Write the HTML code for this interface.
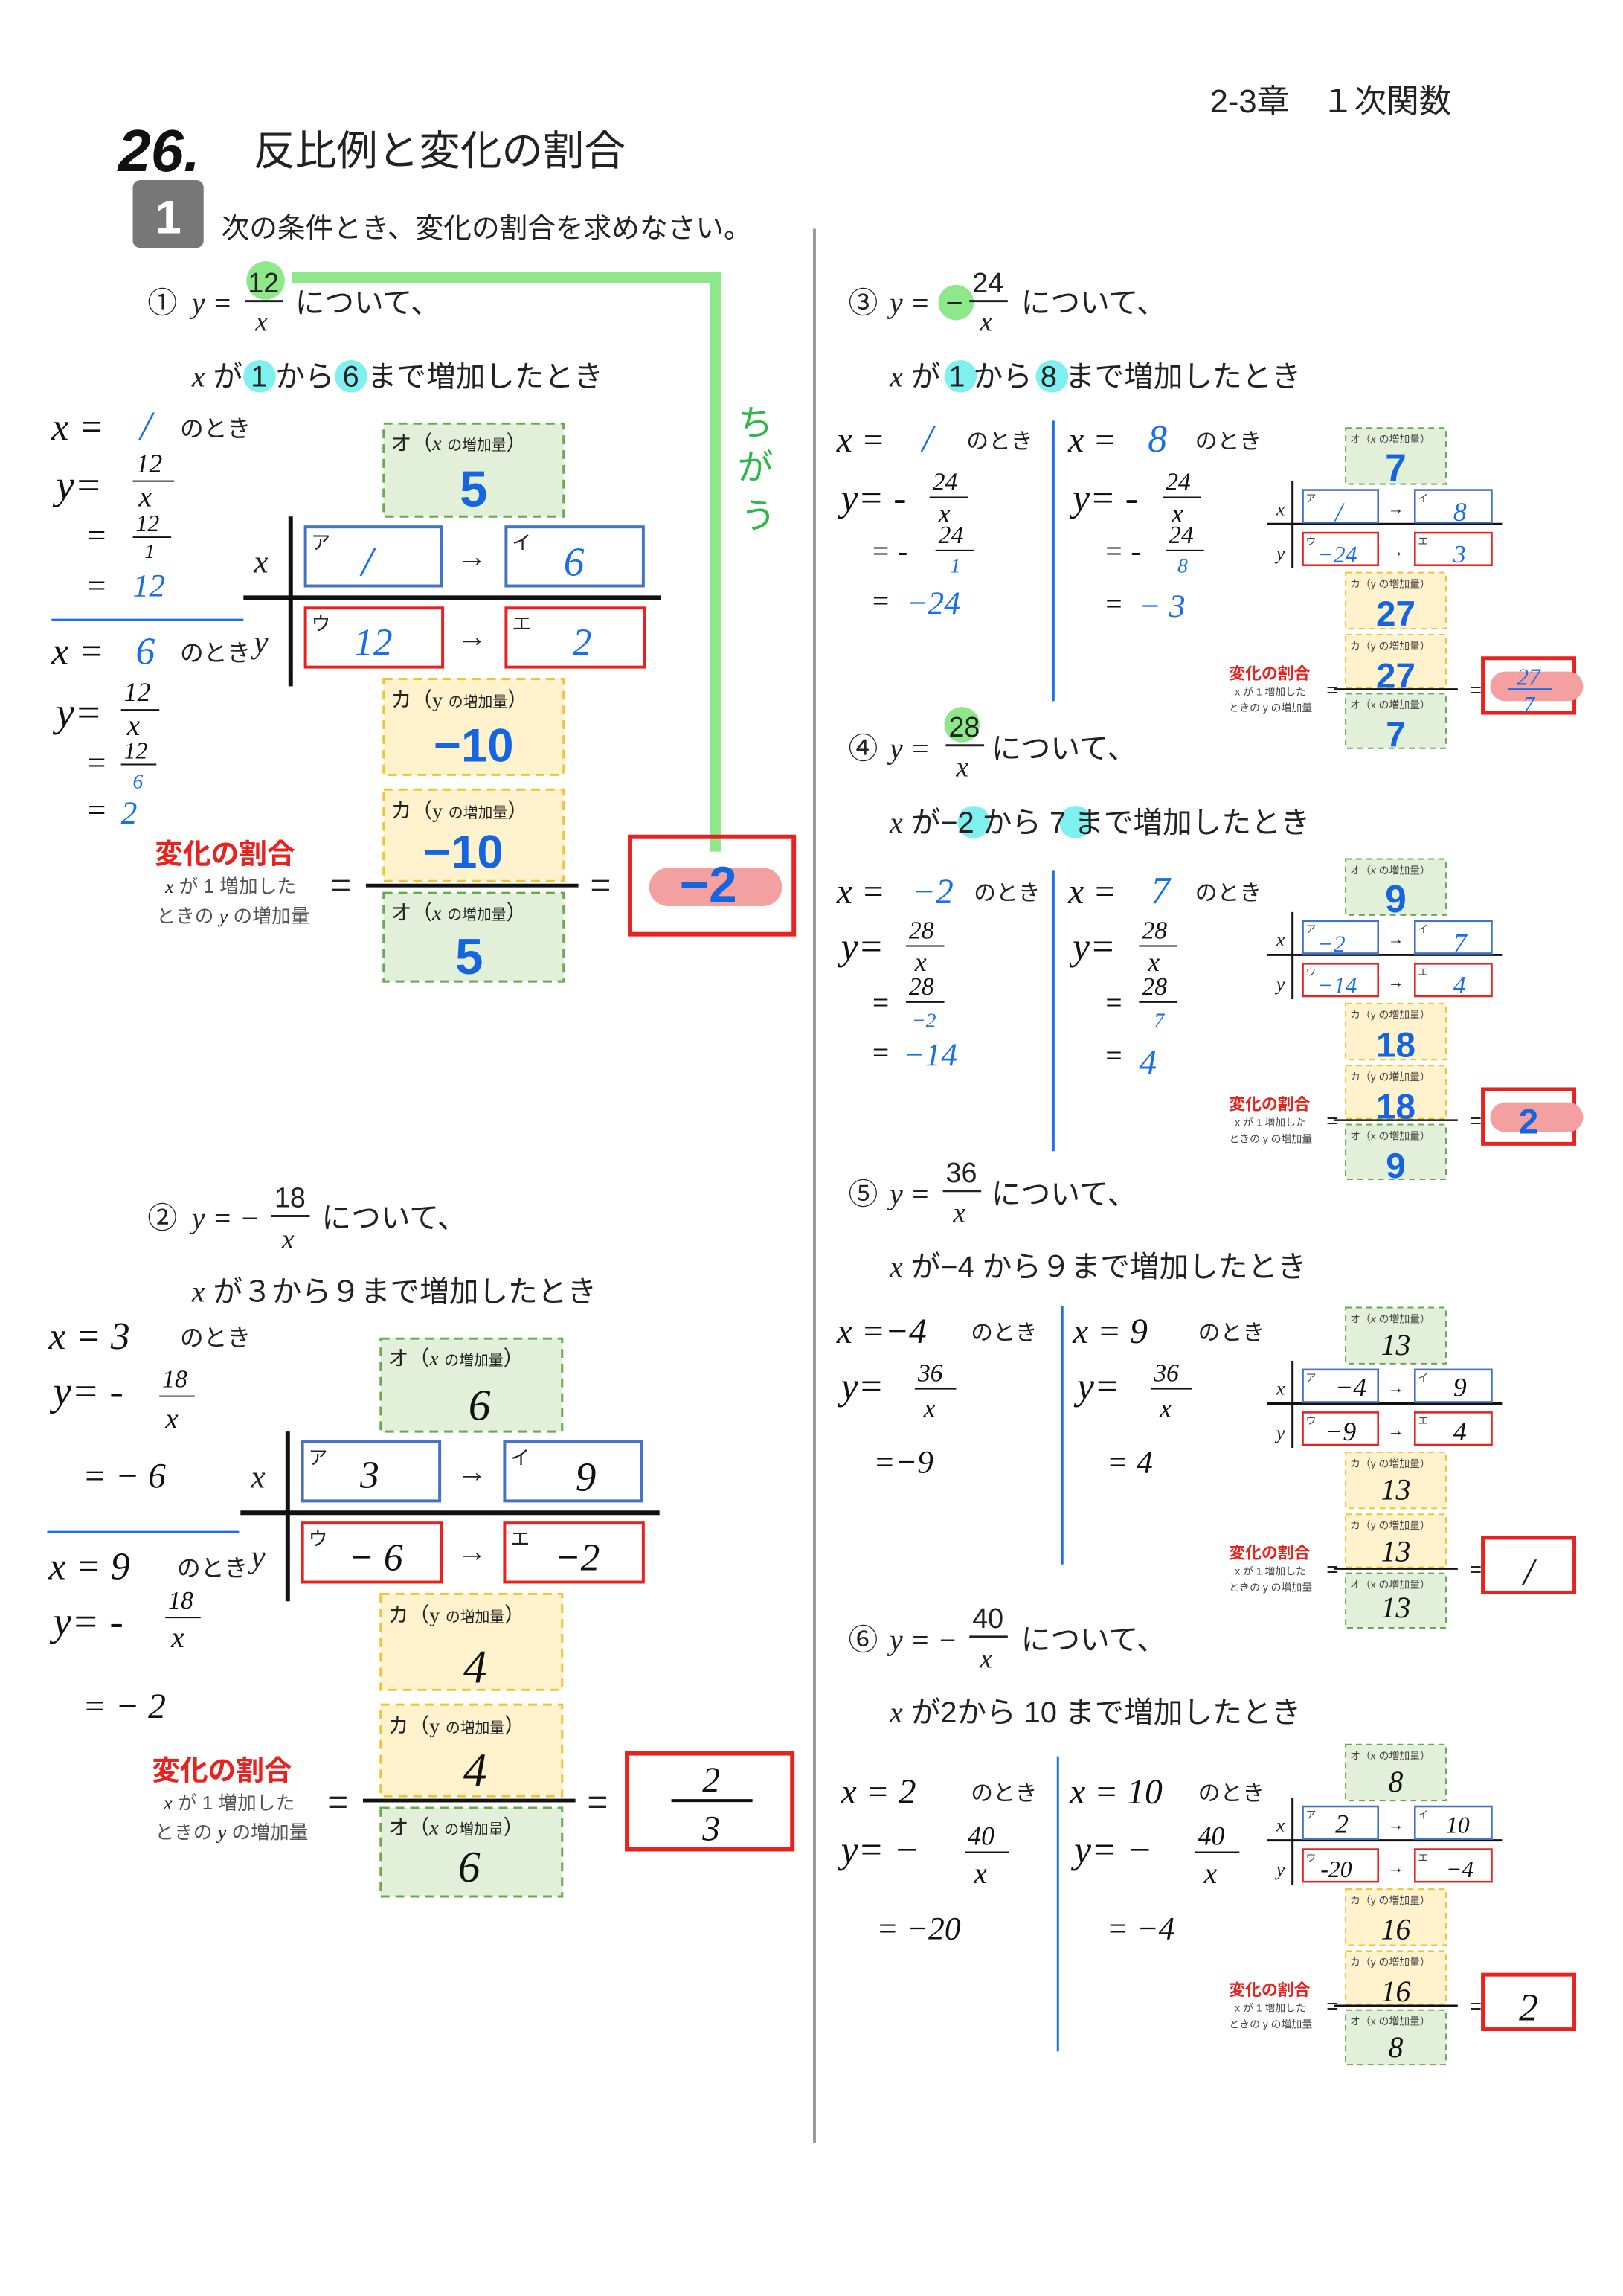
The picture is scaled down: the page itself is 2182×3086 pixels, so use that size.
<!DOCTYPE html>
<html><head><meta charset="utf-8"><style>
html,body{margin:0;padding:0;background:#fff}
svg{display:block}
text{font-family:"Liberation Sans","Noto Sans CJK JP",sans-serif}
.j{font-family:"Liberation Sans","Noto Sans CJK JP",sans-serif;fill:#222}
.m{font-family:"Liberation Serif","Noto Serif CJK SC",serif;font-style:italic;fill:#222}
.h{font-family:"Liberation Serif","Noto Sans CJK JP",serif;font-style:italic;fill:#111}
.b{fill:#1a6ee8}
.bb{fill:#1565e0;font-weight:bold;font-family:"Liberation Sans",sans-serif}
.r{fill:#e8231f}
.sm{font-size:7px;fill:#444}
</style></head><body>
<svg width="2182" height="3086" viewBox="0 0 1100 1555.7" preserveAspectRatio="none" xmlns="http://www.w3.org/2000/svg">
<rect width="1100" height="1556" fill="#fff"/>
<text x="820" y="76" class="j" font-size="22">2-3章　１次関数</text>
<text x="80" y="116" font-size="40" font-weight="bold" font-style="italic" fill="#111" font-family="Liberation Serif">26.</text>
<text x="172" y="112" class="j" font-size="28">反比例と変化の割合</text>
<rect x="90" y="122" width="48" height="46" rx="5" fill="#777"/>
<text x="114" y="158" font-size="32" fill="#fff" text-anchor="middle" font-weight="bold">1</text>
<text x="150" y="161" class="j" font-size="19">次の条件とき、変化の割合を求めなさい。</text>
<line x1="552" y1="155" x2="552" y2="1452" stroke="#999" stroke-width="2"/>

<!-- green annotation -->
<polyline points="198,188 485,188 485,577" fill="none" stroke="#8ee88a" stroke-width="8"/>
<circle cx="180" cy="190" r="13" fill="#8ee88a"/>
<text x="500" y="295" font-size="24" fill="#2db84a">ち</text>
<text x="500" y="325" font-size="24" fill="#2db84a">が</text>
<text x="502" y="358" font-size="24" fill="#2db84a">う</text>

<!-- Problem 1 -->
<text x="100" y="212" class="j" font-size="20">①</text>
<text x="130" y="212" class="m" font-size="20">y =</text>
<text x="168" y="198" font-size="19" fill="#222" font-family="Liberation Serif">12</text>
<line x1="166" y1="204" x2="192" y2="204" stroke="#222" stroke-width="1.5"/>
<text x="173" y="224" class="m" font-size="19">x</text>
<text x="200" y="212" class="j" font-size="20">について、</text>
<circle cx="176" cy="255" r="11" fill="#7ff0f0"/><circle cx="238" cy="255" r="11" fill="#7ff0f0"/>
<text x="130" y="262" class="j" font-size="20"><tspan class="m">x</tspan> が 1 から 6 まで増加したとき</text>
<text x="35" y="298" class="h" font-size="26">x =</text><text x="95" y="298" class="h b" font-size="28">/</text><text x="122" y="296" class="j" font-size="16">のとき</text>
<text x="38" y="338" class="h" font-size="28">y=</text><text x="92" y="320" class="h" font-size="18">12</text><line x1="90" y1="326" x2="118" y2="326" stroke="#111"/><text x="94" y="343" class="h" font-size="20">x</text>
<text x="58" y="370" class="h" font-size="22">=</text><text x="92" y="360" class="h" font-size="16">12</text><line x1="90" y1="364" x2="116" y2="364" stroke="#111"/><text x="98" y="378" class="h" font-size="14">1</text>
<text x="58" y="404" class="h" font-size="22">=</text><text x="90" y="404" class="h b" font-size="22">12</text>
<line x1="35" y1="420" x2="165" y2="420" stroke="#1a6ee8" stroke-width="1.5"/>
<text x="35" y="450" class="h" font-size="26">x =</text><text x="92" y="450" class="h b" font-size="26">6</text><text x="122" y="448" class="j" font-size="16">のとき</text>
<text x="38" y="492" class="h" font-size="28">y=</text><text x="84" y="475" class="h" font-size="18">12</text><line x1="82" y1="481" x2="108" y2="481" stroke="#111"/><text x="86" y="498" class="h" font-size="20">x</text>
<text x="58" y="524" class="h" font-size="22">=</text><text x="84" y="514" class="h" font-size="16">12</text><line x1="82" y1="518" x2="106" y2="518" stroke="#111"/><text x="90" y="534" class="h b" font-size="14">6</text>
<text x="58" y="556" class="h" font-size="22">=</text><text x="82" y="558" class="h b" font-size="22">2</text>
<!-- table 1 -->
<rect x="260" y="287" width="122" height="63" fill="#e2efd9" stroke="#6aa84f" stroke-width="1.5" stroke-dasharray="6,4"/>
<text x="265" y="305" class="j" font-size="14">オ（<tspan class="m">x</tspan> <tspan font-size="10">の増加量</tspan>）</text>
<text x="321" y="343" class="bb" font-size="34" text-anchor="middle">5</text>
<line x1="165" y1="405" x2="448" y2="405" stroke="#111" stroke-width="3"/>
<line x1="197" y1="350" x2="197" y2="465" stroke="#111" stroke-width="3"/>
<text x="172" y="388" class="m" font-size="22">x</text><text x="172" y="442" class="m" font-size="22">y</text>
<rect x="207" y="357" width="92" height="40" fill="none" stroke="#4472c4" stroke-width="2"/><text x="211" y="372" class="j" font-size="13">ア</text><text x="245" y="390" class="h b" font-size="28">/</text>
<text x="320" y="384" class="j" font-size="20" text-anchor="middle">→</text>
<rect x="343" y="357" width="93" height="40" fill="none" stroke="#4472c4" stroke-width="2"/><text x="347" y="372" class="j" font-size="13">イ</text><text x="382" y="390" class="h b" font-size="28">6</text>
<rect x="207" y="412" width="93" height="40" fill="none" stroke="#e8231f" stroke-width="2"/><text x="211" y="427" class="j" font-size="13">ウ</text><text x="240" y="444" class="h b" font-size="26">12</text>
<text x="320" y="438" class="j" font-size="20" text-anchor="middle">→</text>
<rect x="343" y="412" width="94" height="40" fill="none" stroke="#e8231f" stroke-width="2"/><text x="347" y="427" class="j" font-size="13">エ</text><text x="388" y="444" class="h b" font-size="26">2</text>
<rect x="260" y="460" width="122" height="65" fill="#fff2cc" stroke="#f1c232" stroke-width="1.5" stroke-dasharray="6,4"/>
<text x="265" y="479" class="j" font-size="14">カ（<tspan font-family="Liberation Serif">y</tspan> <tspan font-size="10">の増加量</tspan>）</text>
<text x="321" y="516" class="bb" font-size="32" text-anchor="middle">−10</text>
<text x="105" y="585" class="j r" font-size="19" font-weight="bold" style="fill:#e8231f">変化の割合</text>
<text x="112" y="605" class="j" font-size="13" style="fill:#555"><tspan class="m">x</tspan> が 1 増加した</text>
<text x="106" y="625" class="j" font-size="13" style="fill:#555">ときの <tspan class="m">y</tspan> の増加量</text>
<text x="224" y="608" class="j" font-size="24">=</text>
<rect x="260" y="535" width="122" height="62" fill="#fff2cc" stroke="#f1c232" stroke-width="1.5" stroke-dasharray="6,4"/>
<text x="265" y="554" class="j" font-size="14">カ（<tspan font-family="Liberation Serif">y</tspan> <tspan font-size="10">の増加量</tspan>）</text>
<text x="314" y="588" class="bb" font-size="32" text-anchor="middle">−10</text>
<line x1="248" y1="600" x2="392" y2="600" stroke="#111" stroke-width="2.5"/>
<rect x="260" y="605" width="122" height="60" fill="#e2efd9" stroke="#6aa84f" stroke-width="1.5" stroke-dasharray="6,4"/>
<text x="265" y="623" class="j" font-size="14">オ（<tspan class="m">x</tspan> <tspan font-size="10">の増加量</tspan>）</text>
<text x="318" y="660" class="bb" font-size="34" text-anchor="middle">5</text>
<text x="400" y="608" class="j" font-size="24">=</text>
<rect x="427" y="567" width="111" height="66" fill="none" stroke="#e8231f" stroke-width="3"/>
<rect x="440" y="588" width="90" height="26" rx="13" fill="#f4a0a0"/>
<text x="480" y="611" class="bb" font-size="34" text-anchor="middle">−2</text>

<!-- Problem 2 -->
<text x="100" y="832" class="j" font-size="20">②</text>
<text x="130" y="832" class="m" font-size="20">y = −</text>
<text x="186" y="818" font-size="19" fill="#222" font-family="Liberation Serif">18</text>
<line x1="184" y1="824" x2="210" y2="824" stroke="#222" stroke-width="1.5"/>
<text x="191" y="846" class="m" font-size="19">x</text>
<text x="218" y="832" class="j" font-size="20">について、</text>
<text x="130" y="882" class="j" font-size="20"><tspan class="m">x</tspan> が３から９まで増加したとき</text>
<text x="33" y="914" class="h" font-size="26">x = 3</text><text x="122" y="912" class="j" font-size="16">のとき</text>
<text x="36" y="952" class="h" font-size="28">y= -</text><text x="110" y="940" class="h" font-size="17">18</text><line x1="108" y1="946" x2="132" y2="946" stroke="#111"/><text x="112" y="968" class="h" font-size="20">x</text>
<text x="56" y="1008" class="h" font-size="24">= − 6</text>
<line x1="32" y1="1038" x2="162" y2="1038" stroke="#1a6ee8" stroke-width="1.5"/>
<text x="33" y="1070" class="h" font-size="26">x = 9</text><text x="120" y="1068" class="j" font-size="16">のとき</text>
<text x="36" y="1108" class="h" font-size="28">y= -</text><text x="114" y="1090" class="h" font-size="17">18</text><line x1="112" y1="1096" x2="136" y2="1096" stroke="#111"/><text x="116" y="1116" class="h" font-size="20">x</text>
<text x="56" y="1164" class="h" font-size="24">= − 2</text>
<rect x="258" y="907" width="123" height="63" fill="#e2efd9" stroke="#6aa84f" stroke-width="1.5" stroke-dasharray="6,4"/>
<text x="263" y="925" class="j" font-size="14">オ（<tspan class="m">x</tspan> <tspan font-size="10">の増加量</tspan>）</text>
<text x="325" y="962" class="h" font-size="30" text-anchor="middle">6</text>
<line x1="163" y1="1025" x2="447" y2="1025" stroke="#111" stroke-width="3"/>
<line x1="195" y1="970" x2="195" y2="1085" stroke="#111" stroke-width="3"/>
<text x="170" y="1008" class="m" font-size="22">x</text><text x="170" y="1062" class="m" font-size="22">y</text>
<rect x="205" y="977" width="93" height="40" fill="none" stroke="#4472c4" stroke-width="2"/><text x="209" y="992" class="j" font-size="13">ア</text><text x="244" y="1008" class="h" font-size="26">3</text>
<text x="320" y="1004" class="j" font-size="20" text-anchor="middle">→</text>
<rect x="342" y="977" width="93" height="40" fill="none" stroke="#4472c4" stroke-width="2"/><text x="346" y="992" class="j" font-size="13">イ</text><text x="390" y="1010" class="h" font-size="28">9</text>
<rect x="205" y="1032" width="94" height="40" fill="none" stroke="#e8231f" stroke-width="2"/><text x="209" y="1047" class="j" font-size="13">ウ</text><text x="236" y="1064" class="h" font-size="26">− 6</text>
<text x="320" y="1058" class="j" font-size="20" text-anchor="middle">→</text>
<rect x="342" y="1032" width="94" height="40" fill="none" stroke="#e8231f" stroke-width="2"/><text x="346" y="1047" class="j" font-size="13">エ</text><text x="376" y="1064" class="h" font-size="26">−2</text>
<rect x="258" y="1080" width="123" height="65" fill="#fff2cc" stroke="#f1c232" stroke-width="1.5" stroke-dasharray="6,4"/>
<text x="263" y="1099" class="j" font-size="14">カ（<tspan font-family="Liberation Serif">y</tspan> <tspan font-size="10">の増加量</tspan>）</text>
<text x="322" y="1140" class="h" font-size="32" text-anchor="middle">4</text>
<text x="103" y="1206" class="j" font-size="19" font-weight="bold" style="fill:#e8231f">変化の割合</text>
<text x="111" y="1226" class="j" font-size="13" style="fill:#555"><tspan class="m">x</tspan> が 1 増加した</text>
<text x="105" y="1246" class="j" font-size="13" style="fill:#555">ときの <tspan class="m">y</tspan> の増加量</text>
<text x="222" y="1229" class="j" font-size="24">=</text>
<rect x="258" y="1155" width="123" height="62" fill="#fff2cc" stroke="#f1c232" stroke-width="1.5" stroke-dasharray="6,4"/>
<text x="263" y="1174" class="j" font-size="14">カ（<tspan font-family="Liberation Serif">y</tspan> <tspan font-size="10">の増加量</tspan>）</text>
<text x="322" y="1210" class="h" font-size="32" text-anchor="middle">4</text>
<line x1="246" y1="1220" x2="390" y2="1220" stroke="#111" stroke-width="2.5"/>
<rect x="258" y="1225" width="123" height="60" fill="#e2efd9" stroke="#6aa84f" stroke-width="1.5" stroke-dasharray="6,4"/>
<text x="263" y="1243" class="j" font-size="14">オ（<tspan class="m">x</tspan> <tspan font-size="10">の増加量</tspan>）</text>
<text x="318" y="1275" class="h" font-size="30" text-anchor="middle">6</text>
<text x="398" y="1229" class="j" font-size="24">=</text>
<rect x="425" y="1188" width="112" height="65" fill="none" stroke="#e8231f" stroke-width="3"/>
<text x="482" y="1214" class="h" font-size="24" text-anchor="middle">2</text>
<line x1="455" y1="1220" x2="510" y2="1220" stroke="#111" stroke-width="2"/>
<text x="482" y="1247" class="h" font-size="24" text-anchor="middle">3</text>

<!-- Problem 3 -->
<text x="575" y="212" class="j" font-size="20">③</text>
<text x="603" y="212" class="m" font-size="20">y =</text>
<circle cx="648" cy="205" r="12" fill="#8ee88a"/><text x="641" y="212" class="j" font-size="20">−</text>
<text x="659" y="198" font-size="19" fill="#222" font-family="Liberation Serif">24</text>
<line x1="657" y1="204" x2="683" y2="204" stroke="#222" stroke-width="1.5"/>
<text x="664" y="224" class="m" font-size="19">x</text>
<text x="692" y="212" class="j" font-size="20">について、</text>
<circle cx="651" cy="255" r="11" fill="#7ff0f0"/><circle cx="713" cy="255" r="11" fill="#7ff0f0"/>
<text x="603" y="262" class="j" font-size="20"><tspan class="m">x</tspan> が 1 から 8 まで増加したとき</text>
<text x="567" y="306" class="h" font-size="24">x =</text><text x="625" y="306" class="h b" font-size="26">/</text><text x="655" y="304" class="j" font-size="15">のとき</text>
<text x="570" y="346" class="h" font-size="26">y= -</text><text x="632" y="332" class="h" font-size="17">24</text><line x1="630" y1="337" x2="656" y2="337" stroke="#111"/><text x="636" y="354" class="h" font-size="18">x</text>
<text x="590" y="380" class="h" font-size="20">= -</text><text x="636" y="368" class="h" font-size="17">24</text><line x1="634" y1="373" x2="660" y2="373" stroke="#111"/><text x="644" y="388" class="h b" font-size="14">1</text>
<text x="590" y="414" class="h" font-size="20">=</text><text x="614" y="416" class="h b" font-size="22">−24</text>
<line x1="714" y1="285" x2="714" y2="475" stroke="#1a6ee8" stroke-width="1.5"/>
<text x="724" y="306" class="h" font-size="24">x =</text><text x="778" y="306" class="h b" font-size="26">8</text><text x="810" y="304" class="j" font-size="15">のとき</text>
<text x="727" y="346" class="h" font-size="26">y= -</text><text x="790" y="332" class="h" font-size="17">24</text><line x1="788" y1="337" x2="814" y2="337" stroke="#111"/><text x="794" y="354" class="h" font-size="18">x</text>
<text x="748" y="380" class="h" font-size="20">= -</text><text x="792" y="368" class="h" font-size="17">24</text><line x1="790" y1="373" x2="816" y2="373" stroke="#111"/><text x="798" y="388" class="h b" font-size="14">8</text>
<text x="748" y="416" class="h" font-size="20">=</text><text x="772" y="418" class="h b" font-size="22">− 3</text>

<!-- right-table generic template pieces (problem 3 at offset 0) -->
<g id="t3">
<rect x="912" y="290" width="68" height="38" fill="#e2efd9" stroke="#6aa84f" stroke-dasharray="4,3"/>
<text x="915" y="300" class="sm">オ（<tspan font-style="italic">x</tspan> の増加量）</text>
<line x1="859" y1="355" x2="1018" y2="355" stroke="#111" stroke-width="1.5"/>
<line x1="876" y1="326" x2="876" y2="385" stroke="#111" stroke-width="1.5"/>
<text x="865" y="349" class="m" font-size="13">x</text><text x="865" y="379" class="m" font-size="13">y</text>
<rect x="883" y="332" width="51" height="22" fill="none" stroke="#4472c4" stroke-width="1.3"/><text x="885" y="340" class="sm">ア</text>
<text x="946" y="348" class="j" font-size="11" text-anchor="middle">→</text>
<rect x="959" y="332" width="52" height="22" fill="none" stroke="#4472c4" stroke-width="1.3"/><text x="961" y="340" class="sm">イ</text>
<rect x="883" y="361" width="51" height="22" fill="none" stroke="#e8231f" stroke-width="1.3"/><text x="885" y="369" class="sm">ウ</text>
<text x="946" y="377" class="j" font-size="11" text-anchor="middle">→</text>
<rect x="959" y="361" width="52" height="22" fill="none" stroke="#e8231f" stroke-width="1.3"/><text x="961" y="369" class="sm">エ</text>
<rect x="912" y="388" width="68" height="38" fill="#fff2cc" stroke="#f1c232" stroke-dasharray="4,3"/>
<text x="915" y="398" class="sm">カ（y の増加量）</text>
<text x="833" y="460" class="j" font-size="11" font-weight="bold" style="fill:#e8231f">変化の割合</text>
<text x="837" y="471" class="sm">x が 1 増加した</text>
<text x="833" y="482" class="sm">ときの y の増加量</text>
<text x="899" y="472" class="j" font-size="14">=</text>
<rect x="912" y="430" width="68" height="36" fill="#fff2cc" stroke="#f1c232" stroke-dasharray="4,3"/>
<text x="915" y="440" class="sm">カ（y の増加量）</text>
<line x1="904" y1="467" x2="988" y2="467" stroke="#111" stroke-width="1.3"/>
<rect x="912" y="470" width="68" height="37" fill="#e2efd9" stroke="#6aa84f" stroke-dasharray="4,3"/>
<text x="915" y="480" class="sm">オ（x の増加量）</text>
<text x="996" y="472" class="j" font-size="14">=</text>
<rect x="1005" y="446" width="62" height="37" fill="none" stroke="#e8231f" stroke-width="2.5"/>
</g>
<text x="946" y="326" class="bb" font-size="26" text-anchor="middle">7</text>
<text x="905" y="353" class="h b" font-size="18">/</text><text x="985" y="353" class="h b" font-size="18">8</text>
<text x="893" y="381" class="h b" font-size="16">−24</text><text x="985" y="381" class="h b" font-size="17">3</text>
<text x="946" y="424" class="bb" font-size="24" text-anchor="middle">27</text>
<text x="946" y="466" class="bb" font-size="24" text-anchor="middle">27</text>
<text x="946" y="506" class="bb" font-size="24" text-anchor="middle">7</text>
<rect x="1010" y="455" width="63" height="20" rx="10" fill="#f4a0a0"/>
<text x="1036" y="464" class="h b" font-size="16" text-anchor="middle">27</text><line x1="1022" y1="467" x2="1052" y2="467" stroke="#1a6ee8" stroke-width="1.3"/><text x="1036" y="483" class="h b" font-size="16" text-anchor="middle">7</text>

<!-- Problem 4 -->
<text x="575" y="514" class="j" font-size="20">④</text>
<text x="603" y="514" class="m" font-size="20">y =</text>
<circle cx="652" cy="491" r="12" fill="#8ee88a"/>
<text x="643" y="499" font-size="19" fill="#222" font-family="Liberation Serif">28</text>
<line x1="641" y1="505" x2="667" y2="505" stroke="#222" stroke-width="1.5"/>
<text x="648" y="526" class="m" font-size="19">x</text>
<text x="672" y="514" class="j" font-size="20">について、</text>
<circle cx="660" cy="557" r="11" fill="#7ff0f0"/><circle cx="729" cy="557" r="11" fill="#7ff0f0"/>
<text x="603" y="564" class="j" font-size="20"><tspan class="m">x</tspan> が−2 から 7 まで増加したとき</text>
<text x="567" y="612" class="h" font-size="24">x =</text><text x="618" y="612" class="h b" font-size="24">−2</text><text x="660" y="610" class="j" font-size="15">のとき</text>
<text x="570" y="650" class="h" font-size="26">y=</text><text x="616" y="636" class="h" font-size="17">28</text><line x1="614" y1="641" x2="640" y2="641" stroke="#111"/><text x="620" y="658" class="h" font-size="18">x</text>
<text x="590" y="686" class="h" font-size="20">=</text><text x="616" y="674" class="h" font-size="17">28</text><line x1="614" y1="679" x2="640" y2="679" stroke="#111"/><text x="618" y="696" class="h b" font-size="14">−2</text>
<text x="590" y="720" class="h" font-size="20">=</text><text x="612" y="722" class="h b" font-size="22">−14</text>
<line x1="714" y1="590" x2="714" y2="780" stroke="#1a6ee8" stroke-width="1.5"/>
<text x="724" y="612" class="h" font-size="24">x =</text><text x="780" y="612" class="h b" font-size="26">7</text><text x="810" y="610" class="j" font-size="15">のとき</text>
<text x="727" y="650" class="h" font-size="26">y=</text><text x="774" y="636" class="h" font-size="17">28</text><line x1="772" y1="641" x2="798" y2="641" stroke="#111"/><text x="778" y="658" class="h" font-size="18">x</text>
<text x="748" y="686" class="h" font-size="20">=</text><text x="774" y="674" class="h" font-size="17">28</text><line x1="772" y1="679" x2="798" y2="679" stroke="#111"/><text x="782" y="696" class="h b" font-size="14">7</text>
<text x="748" y="722" class="h" font-size="20">=</text><text x="772" y="728" class="h b" font-size="24">4</text>
<use href="#t3" transform="translate(0,292)"/>
<text x="946" y="618" class="bb" font-size="26" text-anchor="middle">9</text>
<text x="893" y="645" class="h b" font-size="16">−2</text><text x="985" y="645" class="h b" font-size="18">7</text>
<text x="893" y="673" class="h b" font-size="16">−14</text><text x="985" y="673" class="h b" font-size="17">4</text>
<text x="946" y="716" class="bb" font-size="24" text-anchor="middle">18</text>
<text x="946" y="758" class="bb" font-size="24" text-anchor="middle">18</text>
<text x="946" y="798" class="bb" font-size="24" text-anchor="middle">9</text>
<rect x="1010" y="747" width="63" height="20" rx="10" fill="#f4a0a0"/>
<text x="1036" y="768" class="bb" font-size="24" text-anchor="middle">2</text>

<!-- Problem 5 -->
<text x="575" y="816" class="j" font-size="20">⑤</text>
<text x="603" y="816" class="m" font-size="20">y =</text>
<text x="641" y="801" font-size="19" fill="#222" font-family="Liberation Serif">36</text>
<line x1="639" y1="807" x2="665" y2="807" stroke="#222" stroke-width="1.5"/>
<text x="646" y="828" class="m" font-size="19">x</text>
<text x="672" y="816" class="j" font-size="20">について、</text>
<text x="603" y="865" class="j" font-size="20"><tspan class="m">x</tspan> が−4 から９まで増加したとき</text>
<text x="567" y="910" class="h" font-size="24">x =−4</text><text x="658" y="908" class="j" font-size="15">のとき</text>
<text x="570" y="948" class="h" font-size="26">y=</text><text x="622" y="936" class="h" font-size="17">36</text><line x1="620" y1="941" x2="648" y2="941" stroke="#111"/><text x="626" y="960" class="h" font-size="18">x</text>
<text x="592" y="998" class="h" font-size="22">=−9</text>
<line x1="720" y1="885" x2="720" y2="1060" stroke="#1a6ee8" stroke-width="1.5"/>
<text x="727" y="910" class="h" font-size="24">x =  9</text><text x="812" y="908" class="j" font-size="15">のとき</text>
<text x="730" y="948" class="h" font-size="26">y=</text><text x="782" y="936" class="h" font-size="17">36</text><line x1="780" y1="941" x2="808" y2="941" stroke="#111"/><text x="786" y="960" class="h" font-size="18">x</text>
<text x="750" y="998" class="h" font-size="22">=  4</text>
<use href="#t3" transform="translate(0,596)"/>
<text x="946" y="918" class="h" font-size="20" text-anchor="middle">13</text>
<text x="905" y="946" class="h" font-size="18">−4</text><text x="985" y="946" class="h" font-size="18">9</text>
<text x="898" y="976" class="h" font-size="18">−9</text><text x="985" y="976" class="h" font-size="18">4</text>
<text x="946" y="1016" class="h" font-size="20" text-anchor="middle">13</text>
<text x="946" y="1058" class="h" font-size="20" text-anchor="middle">13</text>
<text x="946" y="1096" class="h" font-size="20" text-anchor="middle">13</text>
<text x="1036" y="1074" class="h" font-size="26" text-anchor="middle">/</text>

<!-- Problem 6 -->
<text x="575" y="1118" class="j" font-size="20">⑥</text>
<text x="603" y="1118" class="m" font-size="20">y = −</text>
<text x="659" y="1103" font-size="19" fill="#222" font-family="Liberation Serif">40</text>
<line x1="657" y1="1109" x2="683" y2="1109" stroke="#222" stroke-width="1.5"/>
<text x="664" y="1130" class="m" font-size="19">x</text>
<text x="692" y="1118" class="j" font-size="20">について、</text>
<text x="603" y="1167" class="j" font-size="20"><tspan class="m">x</tspan> が2から 10 まで増加したとき</text>
<text x="570" y="1222" class="h" font-size="24">x = 2</text><text x="658" y="1220" class="j" font-size="15">のとき</text>
<text x="570" y="1262" class="h" font-size="26">y= −</text><text x="656" y="1250" class="h" font-size="18">40</text><line x1="654" y1="1255" x2="684" y2="1255" stroke="#111"/><text x="660" y="1276" class="h" font-size="20">x</text>
<text x="594" y="1314" class="h" font-size="22">= −20</text>
<line x1="717" y1="1190" x2="717" y2="1390" stroke="#1a6ee8" stroke-width="1.5"/>
<text x="725" y="1222" class="h" font-size="24">x = 10</text><text x="812" y="1220" class="j" font-size="15">のとき</text>
<text x="728" y="1262" class="h" font-size="26">y= −</text><text x="812" y="1250" class="h" font-size="18">40</text><line x1="810" y1="1255" x2="840" y2="1255" stroke="#111"/><text x="816" y="1276" class="h" font-size="20">x</text>
<text x="750" y="1314" class="h" font-size="22">= −4</text>
<use href="#t3" transform="translate(0,892)"/>
<text x="946" y="1214" class="h" font-size="20" text-anchor="middle">8</text>
<text x="905" y="1242" class="h" font-size="18">2</text><text x="980" y="1242" class="h" font-size="16">10</text>
<text x="895" y="1272" class="h" font-size="16">-20</text><text x="980" y="1272" class="h" font-size="16">−4</text>
<text x="946" y="1314" class="h" font-size="20" text-anchor="middle">16</text>
<text x="946" y="1356" class="h" font-size="20" text-anchor="middle">16</text>
<text x="946" y="1394" class="h" font-size="20" text-anchor="middle">8</text>
<text x="1036" y="1369" class="h" font-size="26" text-anchor="middle">2</text>
</svg>
</body></html>
